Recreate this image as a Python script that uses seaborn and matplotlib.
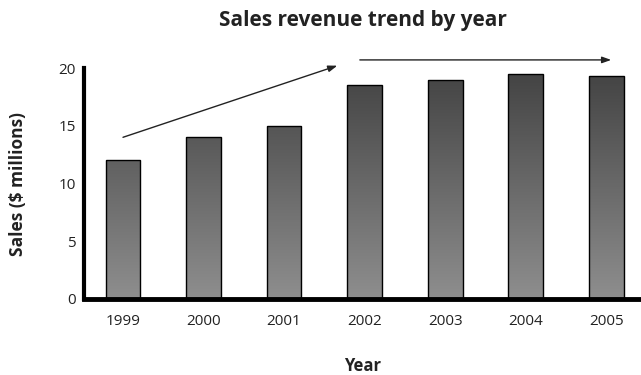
import numpy as np
import pandas as pd
import matplotlib
matplotlib.use("Agg")
import matplotlib.pyplot as plt
from matplotlib.colors import LinearSegmentedColormap
from matplotlib.ticker import FixedLocator
import seaborn as sns

# Annual sales, in millions of dollars
years = ["1999", "2000", "2001", "2002", "2003", "2004", "2005"]
sales = [12.0, 14.0, 15.0, 18.5, 19.0, 19.5, 19.3]
y_ticks = [0, 5, 10, 15, 20]

title = "Sales revenue trend by year"
x_label = "Year"
y_label = "Sales ($ millions)"

sns.set_theme(style="white")
plt.rcParams["font.family"] = ["Open Sans", "DejaVu Sans"]

df = pd.DataFrame({"Year": years, "Sales": sales})

fig = plt.figure(figsize=(6.41, 3.75), dpi=100)
ax = fig.add_axes([84 / 641, 76 / 375, 557 / 641, 231 / 375])

sns.barplot(data=df, x="Year", y="Sales", ax=ax, width=0.43,
            color="#666666", edgecolor="black", linewidth=1.0,
            errorbar=None, zorder=2)

y_max = y_ticks[-1]
ax.set_xlim(-0.484, 6.43)
ax.set_ylim(0, y_max)

# Grey gradient shared by all bars along the value axis:
# light at zero, darkening towards the top of the scale
grad_cmap = LinearSegmentedColormap.from_list("bar_grad", ["#8e8e8e", "#424242"])
gradient = np.linspace(0, 1, 256).reshape(-1, 1)
for bar in ax.patches:
    x0, w = bar.get_x(), bar.get_width()
    im = ax.imshow(gradient, cmap=grad_cmap, aspect="auto", origin="lower",
                   extent=(x0, x0 + w, 0, y_max), zorder=1.5,
                   interpolation="bilinear")
    im.set_clip_path(bar)
    bar.set_facecolor("none")
ax.set_xlim(-0.484, 6.43)
ax.set_ylim(0, y_max)

# Axes styling
for side in ("top", "right"):
    ax.spines[side].set_visible(False)
ax.spines["left"].set_linewidth(3)
ax.spines["bottom"].set_linewidth(3.5)
ax.spines["left"].set_color("black")
ax.spines["bottom"].set_color("black")
ax.spines["bottom"].set_zorder(5)

ax.set_yticks(y_ticks)
ax.tick_params(axis="y", direction="in", length=8, width=1.2, color="black",
               labelsize=11, pad=6, labelcolor="#222222")
ax.tick_params(axis="x", which="major", length=0, labelsize=11, pad=11,
               labelcolor="#222222")
ax.xaxis.set_minor_locator(FixedLocator(np.arange(0.5, len(years) - 1, 1.0)))
ax.tick_params(axis="x", which="minor", direction="in", length=8, width=1.2,
               color="black")

ax.set_xlabel(x_label, fontsize=12, fontweight="bold", color="#222222")
ax.set_ylabel(y_label, fontsize=12.5, fontweight="bold", color="#222222")
ax.xaxis.set_label_coords(0.5, -0.252)
ax.yaxis.set_label_coords(-0.102, 0.5)

ax.set_title(title, fontsize=15, fontweight="bold", color="#222222", pad=30)

# Trend arrows: rising over 1999-2002, flat after 2002
arrow_style = dict(arrowstyle="-|>,head_length=0.45,head_width=0.16",
                   color="#222222", lw=1.0, shrinkA=0, shrinkB=0)
ax.annotate("", xy=(2.66, 20.2), xytext=(0.0, 14.0),
            arrowprops=arrow_style, annotation_clip=False)
ax.annotate("", xy=(6.06, 20.7), xytext=(2.94, 20.7),
            arrowprops=arrow_style, annotation_clip=False)

fig.savefig("out.png", dpi=100)
